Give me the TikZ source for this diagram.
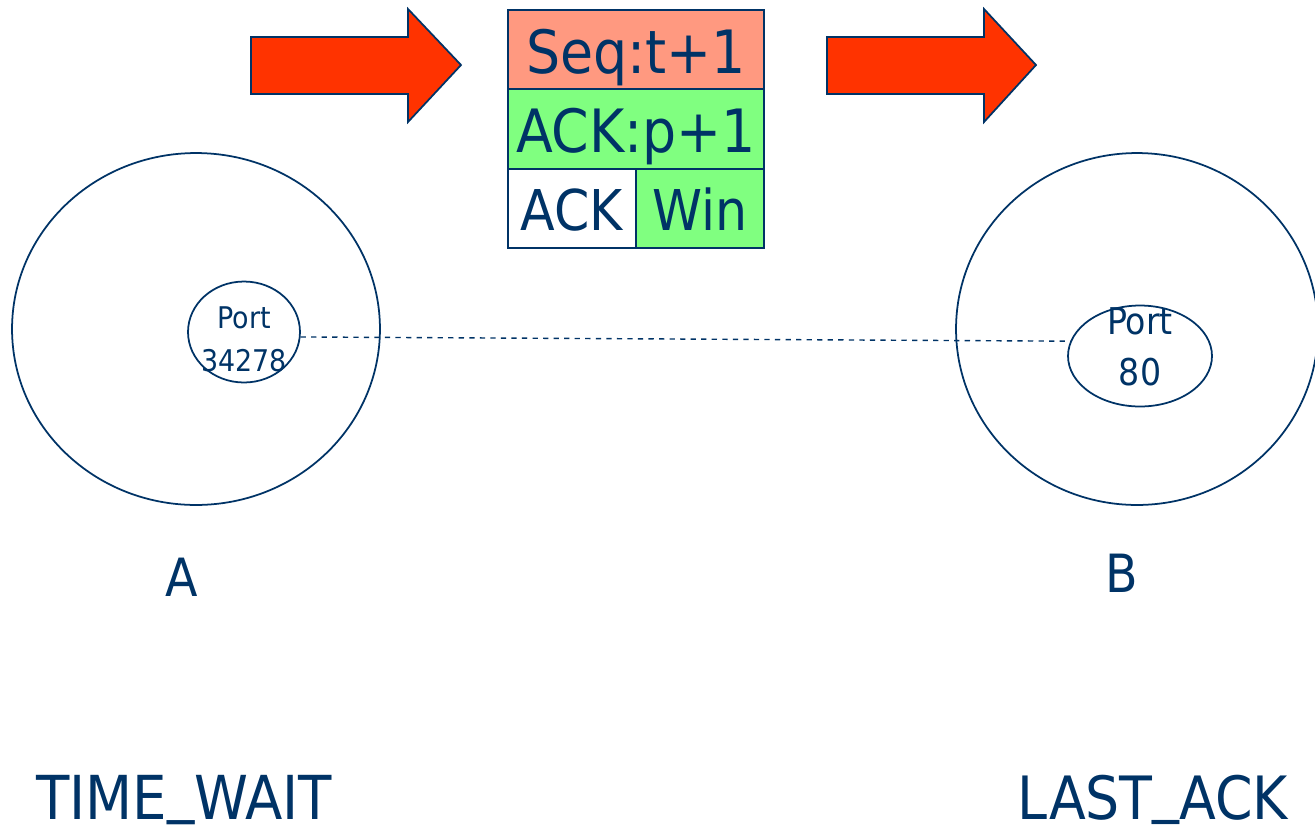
\documentclass[tikz,border=0pt]{standalone}
\usepackage{fontspec}
\setmainfont{DejaVu Sans Condensed}
\usetikzlibrary{positioning,shapes.geometric}
\definecolor{Navy}{HTML}{003366}
\definecolor{Flame}{HTML}{FF3300}
\definecolor{Salmon}{HTML}{FF9980}
\definecolor{Mint}{HTML}{80FF80}

\begin{document}
\begin{tikzpicture}[x=0.02cm,y=-0.02cm,every node/.style={text=Navy, align=center},
    field/.style={draw=Navy,line width=1pt,inner sep=0pt,outer sep=0pt,minimum height=1.59cm,text height=27pt,text depth=0pt,font=\fontsize{34}{38}\selectfont},
    half/.style={field,minimum width=2.56cm,text height=25.6pt,font=\fontsize{32}{36}\selectfont},
    host/.style={draw=Navy,ellipse,line width=1pt,minimum height=7.04cm},
    port/.style={draw=Navy,ellipse,line width=1pt,inner sep=0pt,minimum height=2.02cm},
    bigarrow/.style={fill=Flame,draw=Navy,line width=1pt,line join=miter}]
      \useasboundingbox (0,0) rectangle (1315,833);

      % segment on its way from A to B
      \draw[bigarrow] (251,37) -- (408,37) -- (408,9) -- (461,65) -- (408,122) -- (408,94) -- (251,94) -- cycle;
      \draw[bigarrow] (827,37) -- (984,37) -- (984,9) -- (1036,65) -- (984,122) -- (984,94) -- (827,94) -- cycle;

      \node[field,fill=Salmon,minimum width=5.12cm] (seq) at (636,49.5) {Seq:t+1};
      \node[field,fill=Mint,minimum width=5.12cm,below=0pt of seq] (ack) {ACK:p+1};
      \node[half,fill=white,anchor=north west] (flag) at (ack.south west) {ACK};
      \node[half,fill=Mint,right=0pt of flag] (win) {Win};

      % hosts
      \node[host,minimum width=7.36cm] (hostA) at (196,329) {};
      \node[host,minimum width=7.24cm] (hostB) at (1137,329) {};
      \node[port,minimum width=2.24cm] (portA) at (244,332) {};
      \node[port,minimum width=2.88cm] (portB) at (1140,356) {};
      \node[font=\fontsize{17}{24.5}\selectfont] (portAtext) at (244,339) {Port\\34278};
      \node[font=\fontsize{21}{29}\selectfont] (portBtext) at (1140,347) {Port\\80};
      \draw[Navy,dashed,line width=0.8pt] (portA.-5) -- (portB.168);

      \node[font=\fontsize{30}{32}\selectfont] (nameA) at (182,577) {A};
      \node[font=\fontsize{30}{32}\selectfont] (nameB) at (1122,573) {B};
      \node[font=\fontsize{34.5}{38}\selectfont,inner sep=0pt,anchor=base] (stateA) at (184,819) {TIME\raisebox{0.14em}{\_}WAIT};
      \node[font=\fontsize{34}{38}\selectfont,inner sep=0pt,anchor=base] (stateB) at (1153,819) {LAST\raisebox{0.14em}{\_}ACK};
    \end{tikzpicture}
\end{document}
